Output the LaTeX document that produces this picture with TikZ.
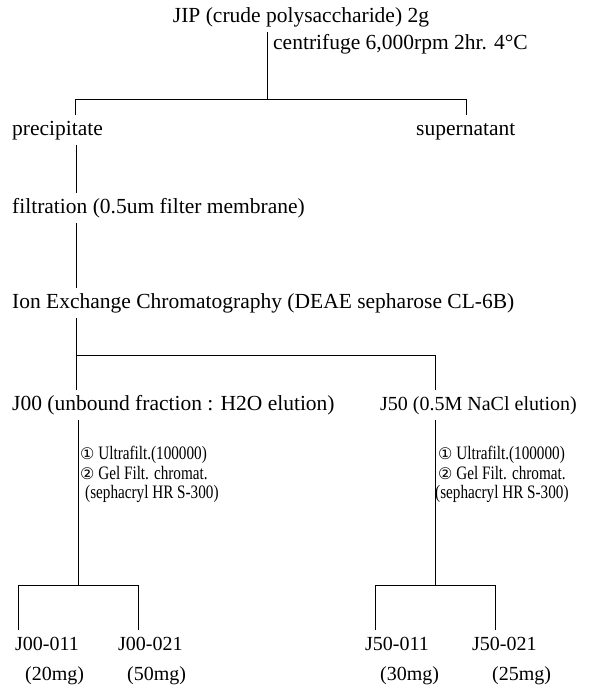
\documentclass[tikz,border=0pt]{standalone}
\usepackage{fontspec}
\setmainfont{Liberation Serif}
\newfontfamily\narrowfont[FakeStretch=0.8]{Liberation Serif}
\newfontfamily\circfont{DejaVu Sans}
\usepackage{tikz}
\usetikzlibrary{positioning}
\tikzset{
    stage/.style={
      anchor=base west,
      inner xsep=0pt,
      inner ysep=5pt,
      text height=15pt,
      text depth=5pt,
      font=\fontsize{21.5}{24}\selectfont
    },
    fraction/.style={
      stage,
      font=\fontsize{20}{24}\selectfont
    },
    steps/.style={
      anchor=north west,
      inner sep=0pt,
      align=left,
      font=\narrowfont\fontsize{19}{19.5}\selectfont
    },
    tree/.style={line width=0.8pt}
}
\newcommand{\circnum}[1]{{\circfont\fontsize{16}{16}\selectfont #1}}

\begin{document}
\begin{tikzpicture}[x=1pt,y=-1pt]
    \useasboundingbox (0,0) rectangle (593,688);

    \node[stage,anchor=base] at (301,22) (jip) {JIP (crude polysaccharide) 2g};
    \node[stage] at (273,49) (cfg) {centrifuge 6,000rpm 2hr. 4°C};
    \node[stage] at (12,135) (prec) {precipitate};
    \node[stage] at (416,135) (sup) {supernatant};
    \node[stage] at (12,213) (filt) {filtration (0.5um filter membrane)};
    \node[stage] at (12,308) (iec) {Ion Exchange Chromatography (DEAE sepharose CL-6B)};
    \node[stage] at (12,410) (j00) {J00 (unbound fraction : H2O elution)};
    \node[stage,font=\fontsize{20}{24}\selectfont] at (380,410) (j50) {J50 (0.5M NaCl elution)};

    \node[steps] at (80,446) (p00) {\circnum{①} Ultrafilt.(100000)\\
      \circnum{②} Gel Filt. chromat.\\
      \hspace{5pt}(sephacryl HR S-300)};
    \node[steps] at (438,446) (p50) {\circnum{①} Ultrafilt.(100000)\\
      \circnum{②} Gel Filt. chromat.\\
      \hspace{-3pt}(sephacryl HR S-300)};

    \node[fraction] at (15,650) (f1) {J00-011};
    \node[fraction] at (118,650) (f2) {J00-021};
    \node[fraction] at (365,650) (f3) {J50-011};
    \node[fraction] at (472,650) (f4) {J50-021};
    \node[fraction] at (25,680) (m1) {(20mg)};
    \node[fraction] at (127,680) (m2) {(50mg)};
    \node[fraction] at (380,680) (m3) {(30mg)};
    \node[fraction] at (492,680) (m4) {(25mg)};

    \coordinate (top) at (267,99);
    \coordinate (topl) at (75,99);
    \coordinate (topr) at (466,99);
    \coordinate (axis) at (76,0);
    \coordinate (midl) at (76,355);
    \coordinate (midr) at (435,355);
    \coordinate (lowl) at (78,585);
    \coordinate (lowr) at (435,585);
    \coordinate (barl1) at (18,585);
    \coordinate (barl2) at (138,585);
    \coordinate (barr1) at (375,585);
    \coordinate (barr2) at (495,585);

    \draw[tree] (jip.south -| top) -- (top);
    \draw[tree] (prec.north -| topl) -- (topl) -- (topr) -- (sup.north -| topr);
    \draw[tree] (prec.south -| axis) -- (filt.north -| axis);
    \draw[tree] (filt.south -| axis) -- (iec.north -| axis);
    \draw[tree] (iec.south -| axis) -- (j00.north -| axis);
    \draw[tree] (midl) -- (midr) -- (j50.north -| midr);

    \draw[tree] (j00.south -| lowl) -- (lowl);
    \draw[tree] (f1.north -| barl1) -- (barl1) -- (barl2) -- (f2.north -| barl2);
    \draw[tree] (j50.south -| lowr) -- (lowr);
    \draw[tree] (f3.north -| barr1) -- (barr1) -- (barr2) -- (f4.north -| barr2);

\end{tikzpicture}
\end{document}
